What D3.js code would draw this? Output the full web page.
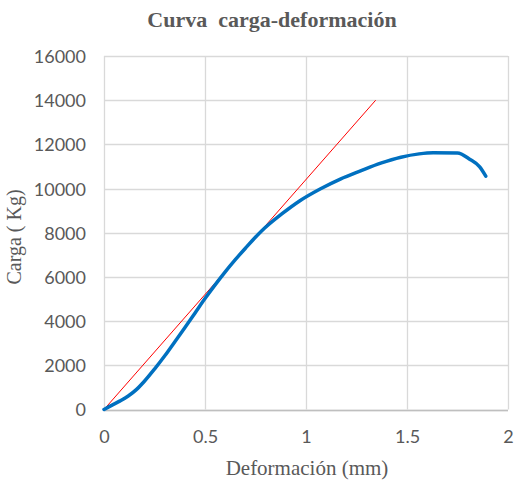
<!DOCTYPE html>
<html>
<head>
<meta charset="utf-8">
<script src="https://cdn.jsdelivr.net/npm/d3@7"></script>
<style>
  html, body { margin: 0; padding: 0; background: #fff; }
  svg { display: block; }
</style>
</head>
<body>
<svg id="chart" width="516" height="486"></svg>
<script>
// Load–deformation test data
const deformation = [0, 0.04, 0.08, 0.12, 0.16, 0.20, 0.25, 0.30, 0.35, 0.40, 0.45, 0.50, 0.55,
  0.60, 0.65, 0.70, 0.78, 0.88, 0.97, 1.07, 1.17, 1.27, 1.37, 1.47, 1.56, 1.63, 1.75, 1.81, 1.86, 1.89];
const load = [0, 200, 390, 610, 900, 1280, 1830, 2420, 3060, 3700, 4360, 5020, 5640,
  6230, 6780, 7300, 8080, 8850, 9450, 9980, 10430, 10800, 11150, 11420, 11570, 11620, 11610, 11330, 10980, 10560];

// Elastic (linear) reference line
const elasticX = [0, 1.345];
const elasticY = [0, 14000];

const xTicks = [0, 0.5, 1, 1.5, 2];
const yTicks = [0, 2000, 4000, 6000, 8000, 10000, 12000, 14000, 16000];

const svg = d3.select("#chart");
const plotLeft = 104, plotRight = 508, plotTop = 56, plotBottom = 409.5;

const x = d3.scaleLinear().domain([0, 2]).range([plotLeft, plotRight]);
const y = d3.scaleLinear().domain([0, 16000]).range([plotBottom, plotTop]);

const labelColor = "#595959";
const gridColor = "#d9d9d9";
const tickFont = "Lato, 'Open Sans', sans-serif";
const serifFont = "'Liberation Serif', 'Times New Roman', serif";

// Grid
svg.append("g").selectAll("line").data(yTicks).join("line")
  .attr("x1", plotLeft).attr("x2", plotRight)
  .attr("y1", d => Math.round(y(d)) + 0.5).attr("y2", d => Math.round(y(d)) + 0.5)
  .attr("stroke", gridColor).attr("stroke-width", 1.3);
svg.append("g").selectAll("line").data(xTicks).join("line")
  .attr("y1", plotTop).attr("y2", plotBottom)
  .attr("x1", d => Math.round(x(d)) + 0.5).attr("x2", d => Math.round(x(d)) + 0.5)
  .attr("stroke", gridColor).attr("stroke-width", 1.3);

// Axes (labels only; lines come from the grid)
const yAxis = svg.append("g").attr("transform", `translate(${plotLeft - 18},0)`)
  .call(d3.axisLeft(y).tickValues(yTicks).tickSize(0).tickFormat(d3.format("d")));
yAxis.select(".domain").remove();
yAxis.selectAll("text").attr("x", 0).attr("fill", labelColor).attr("font-family", tickFont)
  .attr("font-size", 18).attr("dy", "0.36em");

const xAxis = svg.append("g").attr("transform", "translate(0,443)")
  .call(d3.axisBottom(x).tickValues(xTicks).tickSize(0).tickFormat(d => String(d)));
xAxis.select(".domain").remove();
xAxis.selectAll("text").attr("y", 0).attr("dy", 0).attr("fill", labelColor)
  .attr("font-family", tickFont).attr("font-size", 18);

// Bottom axis line
svg.append("line").attr("x1", plotLeft).attr("x2", plotRight)
  .attr("y1", Math.round(plotBottom) + 0.5).attr("y2", Math.round(plotBottom) + 0.5)
  .attr("stroke", "#bfbfbf").attr("stroke-width", 1.3);

// Elastic line
svg.append("path")
  .datum(elasticX.map((d, i) => [d, elasticY[i]]))
  .attr("d", d3.line().x(d => x(d[0])).y(d => y(d[1])))
  .attr("fill", "none").attr("stroke", "#ff0000").attr("stroke-width", 1);

// Load–deformation curve
svg.append("path")
  .datum(deformation.map((d, i) => [d, load[i]]))
  .attr("d", d3.line().x(d => x(d[0])).y(d => y(d[1])).curve(d3.curveMonotoneX))
  .attr("fill", "none").attr("stroke", "#0070c0").attr("stroke-width", 3.5)
  .attr("stroke-linejoin", "round").attr("stroke-linecap", "round");

// Title
svg.append("text").attr("x", 272).attr("y", 27).attr("text-anchor", "middle")
  .attr("font-family", serifFont).attr("font-weight", "bold")
  .attr("font-size", 22).attr("fill", labelColor).style("white-space", "pre")
  .text("Curva  carga-deformación");

// Axis titles
svg.append("text").attr("x", 307).attr("y", 475).attr("text-anchor", "middle")
  .attr("font-family", serifFont)
  .attr("font-size", 21).attr("fill", labelColor)
  .text("Deformación (mm)");

svg.append("text").attr("transform", "translate(21,237) rotate(-90)").attr("text-anchor", "middle")
  .attr("font-family", serifFont)
  .attr("font-size", 20).attr("fill", labelColor).style("white-space", "pre")
  .text("Carga ( Kg)");
</script>
</body>
</html>
